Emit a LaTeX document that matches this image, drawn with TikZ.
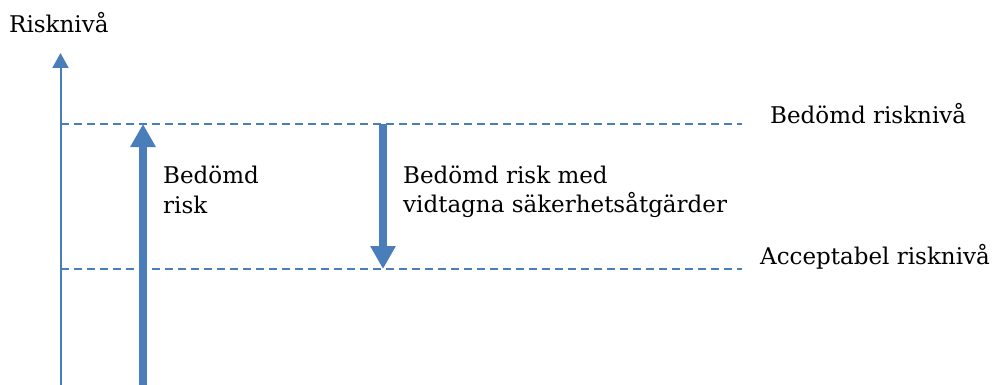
\documentclass[tikz,border=0pt]{standalone}
\usepackage{fontspec}
\setmainfont{DejaVu Serif}
\usetikzlibrary{arrows.meta}
\definecolor{riskblue}{HTML}{4A7EBB}
\tikzset{
  lbl/.style={anchor=base west, inner sep=0pt, font=\fontsize{23}{28}\selectfont, text=black},
  level/.style={draw=riskblue, line width=1.8pt, dash pattern=on 8pt off 5pt},
  axisline/.style={draw=riskblue, line width=2pt, -{Triangle[width=16pt,length=15pt]}},
  bigarrow/.style={draw=riskblue, line width=8pt, -{Triangle[width=24pt,length=23pt]}}
}
\begin{document}
\begin{tikzpicture}[x=1pt,y=-1pt]
\useasboundingbox (0,0) rectangle (992,385);
\coordinate (axbot) at (60.5,385);
\coordinate (axtop) at (60.5,53);
\coordinate (hiL) at (61,124);
\coordinate (hiR) at (742,124);
\coordinate (loL) at (61,269);
\coordinate (loR) at (742,269);
\coordinate (upbot) at (143,385);
\coordinate (uptop) at (143,124);
\coordinate (dntop) at (383,124);
\coordinate (dnbot) at (383,269);
\draw[level] (hiL) -- (hiR);
\draw[level] (loL) -- (loR);
\draw[axisline] (axbot) -- (axtop);
\draw[bigarrow] (upbot) -- (uptop);
\draw[bigarrow] (dntop) -- (dnbot);
\node[lbl] (ylabel) at (9,33) {Risknivå};
\node[lbl] (bl1) at (163,183) {Bedömd};
\node[lbl] (bl2) at (163,213) {risk};
\node[lbl] (ml1) at (403,183) {Bedömd risk med};
\node[lbl] (ml2) at (403,212) {vidtagna säkerhetsåtgärder};
\node[lbl] (hilbl) at (770,123) {Bedömd risknivå};
\node[lbl] (lolbl) at (760,264) {Acceptabel risknivå};
\end{tikzpicture}
\end{document}
